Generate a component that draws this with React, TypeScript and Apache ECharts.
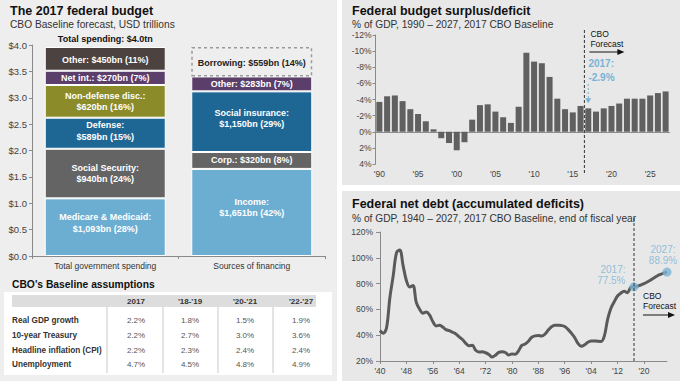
import React, { useEffect, useRef } from 'react';
import * as echarts from 'echarts';

const FONT = '"Liberation Sans", Arial, Helvetica, sans-serif';

// ---- Left: budget ----
const budgetCategories = ['Total government spending', 'Sources of financing'];
const budgetTicks = [0, 0.5, 1, 1.5, 2, 2.5, 3, 3.5, 4];
const spendingValues = [1.093, 0.94, 0.589, 0.62, 0.27, 0.45];
const spendingLabels = [
  'Medicare & Medicaid:\n$1,093bn (28%)',
  'Social Security:\n$940bn (24%)',
  'Defense:\n$589bn (15%)',
  'Non-defense disc.:\n$620bn (16%)',
  'Net int.: $270bn (7%)',
  'Other: $450bn (11%)',
];
const spendingColors = ['#6cadd2', '#646464', '#1e6795', '#8b8b2a', '#5c3e6a', '#4c4240'];
const spendingOffsets = [-4, 0, -2, 0, 0, 1];
const financingValues = [1.651, 0.32, 1.15, 0.283, 0.559];
const financingLabels = [
  'Income:\n$1,651bn (42%)',
  'Corp.: $320bn (8%)',
  'Social insurance:\n$1,150bn (29%)',
  'Other: $283bn (7%)',
  'Borrowing: $559bn (14%)',
];
const financingColors = ['#6cadd2', '#646464', '#1e6795', '#5c3e6a', 'transparent'];
const financingOffsets = [-5, 0, -3, 0, 1];
const totalSpendingLabel = 'Total spending: $4.0tn';

// ---- Table ----
const tableTitle = "CBO's Baseline assumptions";
const tableColumns = ['2017', "'18-'19", "'20-'21", "'22-'27"];
const tableRows = ['Real GDP growth', '10-year Treasury', 'Headline inflation (CPI)', 'Unemployment'];
const tableValues = [
  ['2.2%', '1.8%', '1.5%', '1.9%'],
  ['2.2%', '2.7%', '3.0%', '3.6%'],
  ['2.2%', '2.3%', '2.4%', '2.4%'],
  ['4.7%', '4.5%', '4.8%', '4.9%'],
];

// ---- Right top: deficit ----
const deficitYears = [
  '1990', '1991', '1992', '1993', '1994', '1995', '1996', '1997', '1998', '1999',
  '2000', '2001', '2002', '2003', '2004', '2005', '2006', '2007', '2008', '2009',
  '2010', '2011', '2012', '2013', '2014', '2015', '2016', '2017', '2018', '2019',
  '2020', '2021', '2022', '2023', '2024', '2025', '2026', '2027',
];
const deficitValues = [
  -3.7, -4.4, -4.5, -3.8, -2.8, -2.2, -1.3, -0.3, 0.8, 1.4,
  2.3, 1.3, -1.5, -3.3, -3.4, -2.5, -1.8, -1.1, -3.1, -9.8,
  -8.7, -8.5, -6.8, -4.1, -2.8, -2.4, -3.2, -2.9, -2.5, -2.9,
  -3.2, -3.5, -4.1, -4.1, -4.1, -4.5, -4.8, -5.0,
];
const deficitTicks = [-12, -10, -8, -6, -4, -2, 0, 2, 4];
const deficitNote = '2017:\n-2.9%';

// ---- Right bottom: debt ----
const debtYears = [
  1940, 1941, 1942, 1943, 1944, 1945, 1946, 1947, 1948, 1949,
  1950, 1951, 1952, 1953, 1954, 1955, 1956, 1957, 1958, 1959,
  1960, 1961, 1962, 1963, 1964, 1965, 1966, 1967, 1968, 1969,
  1970, 1971, 1972, 1973, 1974, 1975, 1976, 1977, 1978, 1979,
  1980, 1981, 1982, 1983, 1984, 1985, 1986, 1987, 1988, 1989,
  1990, 1991, 1992, 1993, 1994, 1995, 1996, 1997, 1998, 1999,
  2000, 2001, 2002, 2003, 2004, 2005, 2006, 2007, 2008, 2009,
  2010, 2011, 2012, 2013, 2014, 2015, 2016, 2017, 2018, 2019,
  2020, 2021, 2022, 2023, 2024, 2025, 2026, 2027,
];
const debtValues = [
  43.6, 41.5, 45.9, 69.2, 86.0, 103.9, 106.1, 93.9, 82.4, 77.4,
  78.5, 65.4, 60.1, 57.1, 57.9, 55.7, 50.6, 47.2, 47.7, 46.4,
  44.3, 43.5, 42.3, 41.0, 38.7, 36.7, 33.7, 31.8, 32.2, 28.3,
  27.0, 27.1, 26.4, 25.1, 23.1, 24.5, 26.7, 27.1, 26.6, 24.6,
  25.5, 25.2, 27.9, 32.1, 33.1, 35.3, 38.4, 39.5, 39.8, 39.3,
  40.8, 44.0, 46.6, 47.8, 47.7, 47.5, 46.8, 44.5, 41.6, 38.2,
  33.6, 31.4, 32.5, 34.5, 35.5, 35.6, 35.3, 35.2, 39.3, 52.3,
  60.9, 65.9, 70.4, 72.6, 74.1, 72.9, 77.0, 77.5, 78.0, 78.9,
  79.9, 81.2, 82.7, 84.3, 85.9, 87.1, 88.1, 88.9,
];
const debtTickYears = [1940, 1948, 1956, 1964, 1972, 1980, 1988, 1996, 2004, 2012, 2020];
const debtYTicks = [20, 40, 60, 80, 100, 120];
const debtMarkYears = [2017, 2027];
const debtMarkLabels = ['2017:\n77.5%', '2027:\n88.9%'];

const BLUE = '#78b3d5';

function txt(text: string, x: number, y: number, size: number, o: any = {}) {
  return {
    type: 'text',
    x,
    y,
    z: 50,
    silent: true,
    style: {
      text,
      fontSize: size,
      fontFamily: FONT,
      fontWeight: o.bold ? 'bold' : 'normal',
      fill: o.fill || '#222',
      align: o.align || 'left',
      textAlign: o.align || 'left',
      verticalAlign: 'middle',
      textVerticalAlign: 'middle',
      lineHeight: o.lineHeight || size * 1.2,
    },
  };
}

function rect(x: number, y: number, w: number, h: number, fill: string, z = -10) {
  return { type: 'rect', z, silent: true, shape: { x, y, width: w, height: h }, style: { fill } };
}

function dashLine(x: number, y1: number, y2: number, stroke: string) {
  return {
    type: 'line', z: 40, silent: true,
    shape: { x1: x, y1, x2: x, y2 },
    style: { stroke, lineWidth: 1, lineDash: [3, 2] },
  };
}

function rightArrow(x1: number, x2: number, y: number) {
  return [
    { type: 'line', z: 40, silent: true, shape: { x1, y1: y, x2: x2 - 5, y2: y }, style: { stroke: '#111', lineWidth: 1 } },
    { type: 'polygon', z: 40, silent: true, shape: { points: [[x2 - 7, y - 3], [x2, y], [x2 - 7, y + 3]] }, style: { fill: '#111' } },
  ];
}

export default function App() {
  const ref = useRef<HTMLDivElement>(null);

  useEffect(() => {
    const chart = echarts.init(ref.current!, undefined, { renderer: 'svg', width: 680, height: 381 });

    const budgetSeries: any[] = [];
    spendingValues.forEach((v, i) => {
      budgetSeries.push({
        type: 'bar', xAxisIndex: 0, yAxisIndex: 0, stack: 'budget', barWidth: 121,
        data: [v, '-'],
        itemStyle: { color: spendingColors[i], borderColor: '#ffffff', borderWidth: 1 },
        label: {
          show: true, position: 'inside', color: '#ffffff', fontWeight: 'bold', fontSize: 9,
          lineHeight: 11.5, fontFamily: FONT, offset: [0, spendingOffsets[i]],
          formatter: () => spendingLabels[i],
        },
      });
    });
    financingValues.forEach((v, i) => {
      const isBorrow = i === financingValues.length - 1;
      budgetSeries.push({
        type: 'bar', xAxisIndex: 0, yAxisIndex: 0, stack: 'budget', barWidth: 121,
        data: ['-', v],
        itemStyle: isBorrow
          ? { color: 'rgba(0,0,0,0)', borderColor: '#9a9a9a', borderWidth: 1.5, borderType: [3, 3] }
          : { color: financingColors[i], borderColor: '#ffffff', borderWidth: 1 },
        label: {
          show: true, position: 'inside', color: isBorrow ? '#222222' : '#ffffff', fontWeight: 'bold',
          fontSize: 9, lineHeight: 11.5, fontFamily: FONT, offset: [0, financingOffsets[i]],
          formatter: () => financingLabels[i],
        },
      });
    });

    const axisColor = '#8a8a8a';
    const labelColor = '#444444';

    const option: any = {
      animation: false,
      backgroundColor: '#ffffff',
      textStyle: { fontFamily: FONT },
      grid: [
        { left: 32, top: 45, width: 293, height: 211 },
        { left: 375.5, top: 35, width: 294, height: 129 },
        { left: 380, top: 232, width: 287, height: 129 },
      ],
      xAxis: [
        {
          gridIndex: 0, type: 'category', data: budgetCategories,
          axisLine: { lineStyle: { color: axisColor } },
          axisTick: { show: true, length: 3, lineStyle: { color: axisColor } },
          axisLabel: { fontSize: 8.5, color: '#333', margin: 5, fontFamily: FONT },
        },
        {
          gridIndex: 1, type: 'category', data: deficitYears, position: 'bottom',
          axisLine: { show: true, onZero: true, lineStyle: { color: '#8c8c8c', width: 1.2 } },
          axisTick: { show: false }, axisLabel: { show: false },
        },
        {
          gridIndex: 1, type: 'category', data: deficitYears, position: 'bottom',
          axisLine: { show: false, onZero: false }, axisTick: { show: false },
          axisLabel: {
            fontSize: 8.5, color: labelColor, margin: 5, fontFamily: FONT,
            interval: (idx: number) => idx % 5 === 0,
            formatter: (v: string) => "'" + v.slice(2),
          },
        },
        {
          gridIndex: 2, type: 'value', min: debtYears[0], max: debtYears[debtYears.length - 1],
          interval: 8,
          axisLine: { onZero: false, lineStyle: { color: axisColor } },
          axisTick: { show: true, length: 3, customValues: debtTickYears, lineStyle: { color: axisColor } },
          splitLine: { show: false },
          axisLabel: {
            fontSize: 8.5, color: labelColor, margin: 5, fontFamily: FONT,
            customValues: debtTickYears,
            formatter: (v: number) => (debtTickYears.indexOf(v) >= 0 ? "'" + String(v).slice(2) : ''),
          },
        },
      ],
      yAxis: [
        {
          gridIndex: 0, type: 'value', min: budgetTicks[0], max: budgetTicks[budgetTicks.length - 1], interval: 0.5,
          axisLine: { show: true, lineStyle: { color: axisColor } },
          axisTick: { show: true, length: 3, lineStyle: { color: axisColor } },
          splitLine: { show: false },
          axisLabel: { fontSize: 9.5, color: labelColor, margin: 5, fontFamily: FONT, formatter: (v: number) => '$' + v.toFixed(1) },
        },
        {
          gridIndex: 1, type: 'value', inverse: true, min: deficitTicks[0], max: deficitTicks[deficitTicks.length - 1], interval: 2,
          axisLine: { show: true, lineStyle: { color: axisColor } },
          axisTick: { show: true, length: 3, lineStyle: { color: axisColor } },
          splitLine: { show: false },
          axisLabel: { fontSize: 8.5, color: labelColor, margin: 4, fontFamily: FONT, formatter: (v: number) => v + '%' },
        },
        {
          gridIndex: 2, type: 'value', min: debtYTicks[0], max: debtYTicks[debtYTicks.length - 1], interval: 20,
          axisLine: { show: true, lineStyle: { color: axisColor } },
          axisTick: { show: true, length: 4, lineStyle: { color: axisColor } },
          splitLine: { show: false },
          axisLabel: { fontSize: 8.5, color: labelColor, margin: 7, fontFamily: FONT, formatter: (v: number) => v + '%' },
        },
      ],
      series: [
        ...budgetSeries,
        {
          type: 'bar', xAxisIndex: 1, yAxisIndex: 1, data: deficitValues, barWidth: 6,
          itemStyle: { color: '#606060' },
        },
        {
          type: 'line', xAxisIndex: 3, yAxisIndex: 2, smooth: 0.35, symbol: 'none',
          data: debtYears.map((y, i) => [y, debtValues[i]]),
          lineStyle: { color: '#5a5a5a', width: 3 },
          z: 3,
        },
        {
          type: 'scatter', xAxisIndex: 3, yAxisIndex: 2, symbolSize: 9, z: 5,
          itemStyle: { color: BLUE },
          label: { show: true, fontSize: 10, color: BLUE, lineHeight: 11.5, fontFamily: FONT },
          data: debtMarkYears.map((y, i) => ({
            value: [y, debtValues[debtYears.indexOf(y)]],
            label: i === 0
              ? { position: 'left', align: 'right', distance: 4, offset: [0, -12], formatter: () => debtMarkLabels[i] }
              : { position: 'top', distance: 1, offset: [-4, 0], formatter: () => debtMarkLabels[i] },
          })),
        },
      ],
    };

    chart.setOption(option);

    // Positions from the axes
    const x16 = chart.convertToPixel({ xAxisIndex: 1 } as any, '2016') as any as number;
    const x17 = chart.convertToPixel({ xAxisIndex: 1 } as any, '2017') as any as number;
    const xDef = (x16 + x17) / 2;
    const yBar17 = chart.convertToPixel({ yAxisIndex: 1 } as any, deficitValues[deficitYears.indexOf('2017')]) as any as number;
    const xDebt17 = chart.convertToPixel({ xAxisIndex: 3 } as any, 2017) as any as number;
    const yDebtBottom = chart.convertToPixel({ yAxisIndex: 2 } as any, debtYTicks[0]) as any as number;
    const xTotal = chart.convertToPixel({ xAxisIndex: 0 } as any, budgetCategories[0]) as any as number;
    const yTotal = chart.convertToPixel({ yAxisIndex: 0 } as any, spendingValues.reduce((a, b) => a + b, 0)) as any as number;

    const graphics: any[] = [
      rect(0, 0, 680, 381, '#ffffff', -20),
      rect(0, 0, 337, 381, '#eeeeee'),
      rect(342, 0, 338, 185, '#e8e8e8'),
      rect(342, 191, 338, 190, '#e8e8e8'),
      txt('The 2017 federal budget', 10, 11, 12.5, { bold: true, fill: '#111' }),
      txt('CBO Baseline forecast, USD trillions', 10, 24, 10.2, { fill: '#333' }),
      txt('Federal budget surplus/deficit', 352, 11, 12.5, { bold: true, fill: '#111' }),
      txt('% of GDP, 1990 \u2013 2027, 2017 CBO Baseline', 352, 24, 10.2, { fill: '#333' }),
      txt('Federal net debt (accumulated deficits)', 352, 204, 12.5, { bold: true, fill: '#111' }),
      txt('% of GDP, 1940 \u2013 2027, 2017 CBO Baseline, end of fiscal year', 352, 218, 10.2, { fill: '#333' }),
      txt(totalSpendingLabel, xTotal, yTotal - 8, 9, { bold: true, fill: '#111', align: 'center' }),
      txt(tableTitle, 12, 284, 10.3, { bold: true, fill: '#111' }),
      rect(4, 292, 328, 83, '#ffffff', -5),
      rect(12, 295, 304, 12, '#dddddd', -4),
    ];
    const colX = [136, 190, 245, 301];
    const sepX = [107, 163, 218, 273];
    sepX.forEach((x) => graphics.push(rect(x - 1, 307, 2, 66, '#e4e4e4', -4)));
    tableColumns.forEach((c, j) => graphics.push(txt(c, colX[j], 301, 8, { bold: true, fill: '#333', align: 'center' })));
    const rowY = [320, 335, 350, 364];
    tableRows.forEach((r, i) => {
      graphics.push(txt(r, 12, rowY[i], 8.2, { bold: true, fill: '#333' }));
      tableValues[i].forEach((v, j) => graphics.push(txt(v, colX[j], rowY[i], 8, { fill: '#555', align: 'center' })));
    });

    graphics.push(dashLine(xDef, 30, 175, '#333'));
    graphics.push(txt('CBO', xDef + 6, 34, 8.5, { fill: '#111' }));
    graphics.push(txt('Forecast', xDef + 6, 44, 8.5, { fill: '#111' }));
    graphics.push(...rightArrow(xDef + 5, xDef + 40, 52));
    graphics.push(txt(deficitNote, xDef + 4, 70, 10, { bold: true, fill: BLUE, lineHeight: 14 }));
    graphics.push({
      type: 'line', z: 40, silent: true,
      shape: { x1: x17, y1: 84, x2: x17, y2: yBar17 - 9 },
      style: { stroke: BLUE, lineWidth: 1, lineDash: [2, 2] },
    });
    graphics.push({
      type: 'polygon', z: 40, silent: true,
      shape: { points: [[x17 - 3, yBar17 - 10], [x17 + 3, yBar17 - 10], [x17, yBar17 - 5]] },
      style: { fill: BLUE },
    });

    graphics.push(dashLine(xDebt17, 218, yDebtBottom, '#333'));
    graphics.push(txt('CBO', xDebt17 + 9, 296, 8.5, { fill: '#111' }));
    graphics.push(txt('Forecast', xDebt17 + 9, 306, 8.5, { fill: '#111' }));
    graphics.push(...rightArrow(xDebt17 + 9, xDebt17 + 41, 315));

    chart.setOption({ graphic: graphics });

    return () => chart.dispose();
  }, []);

  return <div ref={ref} style={{ position: 'fixed', left: 0, top: 0, width: 680, height: 381 }} />;
}
